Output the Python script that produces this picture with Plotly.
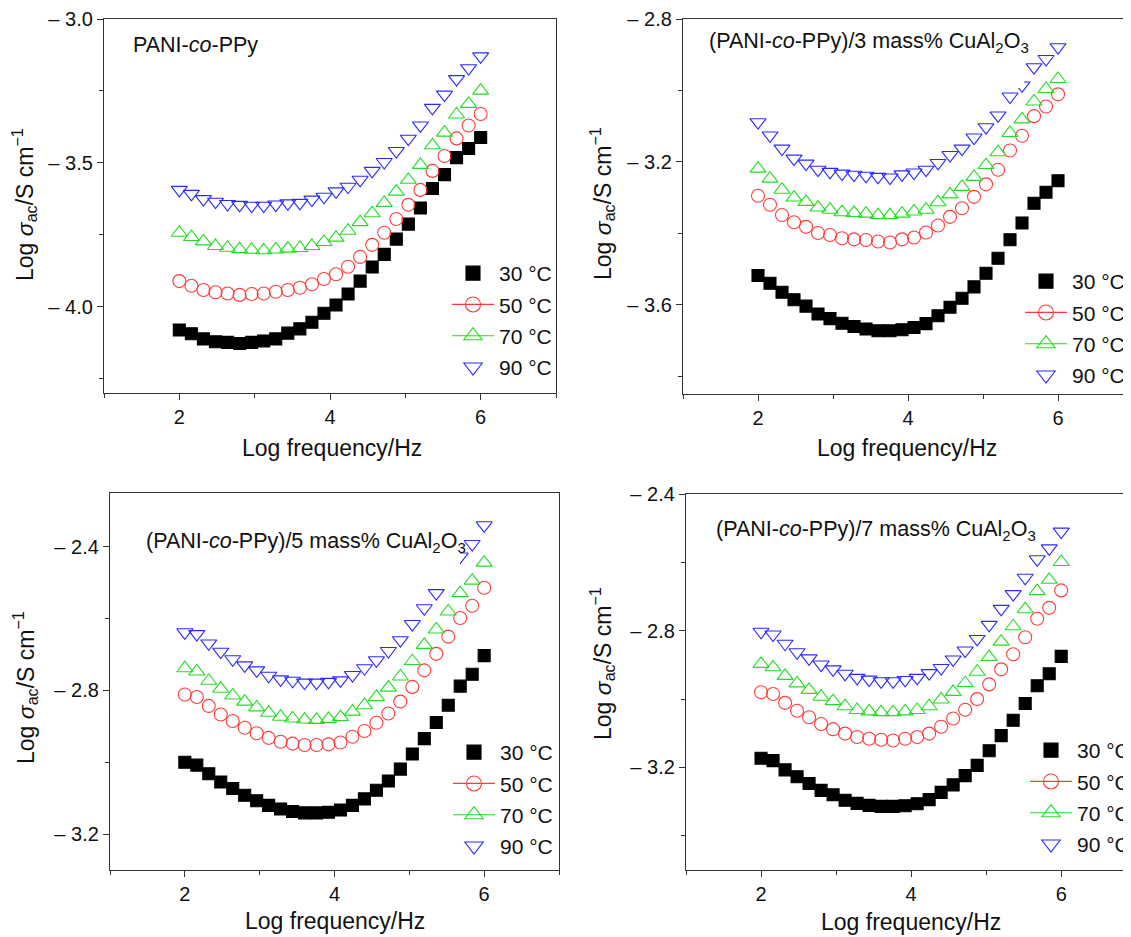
import plotly.graph_objects as go

# ---------------- data ----------------
log_freq = [2.0, 2.16, 2.32, 2.48, 2.64, 2.8, 2.96, 3.12, 3.28, 3.44, 3.6, 3.76, 3.92,
            4.08, 4.24, 4.4, 4.56, 4.72, 4.88, 5.04, 5.2, 5.36, 5.52, 5.68, 5.84, 6.0]

temps = ["30 °C", "50 °C", "70 °C", "90 °C"]

# Panel (a): PANI-co-PPy
a_30 = [-4.081, -4.094, -4.112, -4.122, -4.124, -4.128, -4.124, -4.119, -4.112, -4.092, -4.077, -4.054, -4.023,
        -3.994, -3.956, -3.911, -3.862, -3.818, -3.765, -3.713, -3.657, -3.589, -3.541, -3.482, -3.450, -3.412]
a_50 = [-3.911, -3.927, -3.942, -3.950, -3.954, -3.959, -3.956, -3.954, -3.948, -3.942, -3.934, -3.922, -3.904,
        -3.887, -3.861, -3.827, -3.785, -3.743, -3.695, -3.646, -3.594, -3.528, -3.476, -3.415, -3.370, -3.330]
a_70 = [-3.743, -3.758, -3.773, -3.789, -3.795, -3.800, -3.802, -3.804, -3.801, -3.798, -3.796, -3.789, -3.775,
        -3.760, -3.736, -3.706, -3.675, -3.639, -3.600, -3.559, -3.507, -3.439, -3.395, -3.332, -3.295, -3.249]
a_90 = [-3.594, -3.608, -3.626, -3.635, -3.643, -3.646, -3.649, -3.649, -3.645, -3.641, -3.639, -3.628, -3.618,
        -3.599, -3.583, -3.559, -3.528, -3.497, -3.459, -3.416, -3.370, -3.309, -3.263, -3.209, -3.171, -3.130]

# Panel (b): 3 mass% CuAl2O3
b_30 = [-3.518, -3.540, -3.565, -3.586, -3.604, -3.626, -3.639, -3.652, -3.661, -3.668, -3.673, -3.673, -3.670,
        -3.664, -3.653, -3.631, -3.607, -3.582, -3.550, -3.512, -3.470, -3.418, -3.371, -3.316, -3.285, -3.253]
b_50 = [-3.295, -3.320, -3.349, -3.369, -3.382, -3.399, -3.405, -3.414, -3.417, -3.419, -3.423, -3.426, -3.417,
        -3.412, -3.398, -3.378, -3.354, -3.330, -3.298, -3.263, -3.222, -3.168, -3.127, -3.072, -3.045, -3.011]
b_70 = [-3.219, -3.247, -3.278, -3.300, -3.312, -3.328, -3.334, -3.341, -3.343, -3.345, -3.349, -3.349, -3.345,
        -3.339, -3.334, -3.313, -3.291, -3.270, -3.242, -3.209, -3.173, -3.119, -3.081, -3.031, -2.996, -2.968]
b_90 = [-3.089, -3.126, -3.163, -3.191, -3.205, -3.222, -3.228, -3.233, -3.236, -3.239, -3.242, -3.244, -3.235,
        -3.230, -3.222, -3.203, -3.181, -3.163, -3.132, -3.103, -3.070, -3.017, -2.986, -2.935, -2.912, -2.879]

# Panel (c): 5 mass% CuAl2O3
c_30 = [-3.000, -3.008, -3.032, -3.055, -3.073, -3.092, -3.107, -3.120, -3.130, -3.137, -3.141, -3.141, -3.139,
        -3.133, -3.120, -3.102, -3.078, -3.052, -3.019, -2.977, -2.934, -2.889, -2.841, -2.788, -2.755, -2.703]
c_50 = [-2.811, -2.818, -2.843, -2.867, -2.885, -2.904, -2.919, -2.932, -2.943, -2.948, -2.952, -2.952, -2.950,
        -2.945, -2.929, -2.913, -2.890, -2.864, -2.831, -2.790, -2.744, -2.698, -2.650, -2.598, -2.564, -2.514]
c_70 = [-2.738, -2.747, -2.773, -2.795, -2.814, -2.831, -2.847, -2.862, -2.873, -2.878, -2.881, -2.882, -2.879,
        -2.874, -2.859, -2.841, -2.818, -2.792, -2.761, -2.718, -2.673, -2.630, -2.580, -2.529, -2.494, -2.444]
c_90 = [-2.638, -2.643, -2.669, -2.692, -2.713, -2.730, -2.744, -2.759, -2.769, -2.773, -2.778, -2.778, -2.776,
        -2.772, -2.757, -2.738, -2.716, -2.690, -2.660, -2.615, -2.571, -2.529, -2.477, -2.427, -2.392, -2.340]

# Panel (d): 7 mass% CuAl2O3
d_30 = [-3.173, -3.180, -3.207, -3.227, -3.247, -3.267, -3.280, -3.296, -3.305, -3.311, -3.314, -3.314, -3.312,
        -3.306, -3.294, -3.273, -3.251, -3.224, -3.194, -3.151, -3.107, -3.062, -3.013, -2.961, -2.926, -2.875]
d_50 = [-2.980, -2.985, -3.011, -3.034, -3.053, -3.073, -3.088, -3.101, -3.111, -3.116, -3.119, -3.121, -3.116,
        -3.111, -3.101, -3.081, -3.057, -3.031, -3.000, -2.957, -2.913, -2.869, -2.819, -2.765, -2.733, -2.682]
d_70 = [-2.897, -2.907, -2.932, -2.954, -2.973, -2.993, -3.006, -3.021, -3.032, -3.036, -3.038, -3.038, -3.036,
        -3.032, -3.021, -3.001, -2.979, -2.953, -2.920, -2.877, -2.832, -2.787, -2.737, -2.684, -2.651, -2.599]
d_90 = [-2.803, -2.811, -2.838, -2.863, -2.881, -2.899, -2.913, -2.926, -2.938, -2.943, -2.948, -2.948, -2.944,
        -2.938, -2.924, -2.909, -2.884, -2.858, -2.824, -2.783, -2.736, -2.693, -2.645, -2.591, -2.559, -2.510]

panel_titles = [
    "PANI-<i>co</i>-PPy",
    "(PANI-<i>co</i>-PPy)/3 mass% CuAl<sub>2</sub>O<sub>3</sub>",
    "(PANI-<i>co</i>-PPy)/5 mass% CuAl<sub>2</sub>O<sub>3</sub>",
    "(PANI-<i>co</i>-PPy)/7 mass% CuAl<sub>2</sub>O<sub>3</sub>",
]
x_title = "Log frequency/Hz"
y_title = "Log <i>σ</i><sub>ac</sub>/S cm<sup>\u22121</sup>"

x_tickvals = [2, 4, 6]
x_ticktext = ["2", "4", "6"]
x_minor = [1, 3, 5, 7]

y_tickvals_a = [-3.0, -3.5, -4.0]
y_ticktext_a = ["\u2013 3.0", "\u2013 3.5", "\u2013 4.0"]
y_minor_a = [-3.25, -3.75, -4.25]
y_tickvals_b = [-2.8, -3.2, -3.6]
y_ticktext_b = ["\u2013 2.8", "\u2013 3.2", "\u2013 3.6"]
y_minor_b = [-3.0, -3.4, -3.8]
y_tickvals_c = [-2.4, -2.8, -3.2]
y_ticktext_c = ["\u2013 2.4", "\u2013 2.8", "\u2013 3.2"]
y_minor_c = [-2.6, -3.0]
y_tickvals_d = [-2.4, -2.8, -3.2]
y_ticktext_d = ["\u2013 2.4", "\u2013 2.8", "\u2013 3.2"]
y_minor_d = [-2.6, -3.0, -3.4]

# ---------------- style / layout ----------------
SW, SH = 1131, 937          # screen (viewport) size
OFF = 8                     # default page margin around the plot div
W, H = SW - OFF, SH - OFF   # figure size
FONT = "Liberation Sans, Arial, Helvetica, sans-serif"
AX = "#333333"
TXT = "#111111"
colors = ["#000000", "#ff3b3b", "#22dd22", "#2b2bff"]
symbols = ["square", "circle-open", "triangle-up-open", "triangle-down-open"]
sizes = [12, 13, 14, 14]


def px(sx):
    """screen x (px) -> paper fraction"""
    return (sx - OFF) / W


def py(sy):
    """screen y (px, from top) -> paper fraction"""
    return 1 - (sy - OFF) / H


panels = [
    dict(series=[a_30, a_50, a_70, a_90], xdom=[px(104), px(556)], ydom=[py(393), py(19)],
         xr=[1, 7], yr=[-4.3, -3.0], tv=y_tickvals_a, tt=y_ticktext_a, mn=y_minor_a, ymirror=True,
         title_xy=(131, 45), ytitle=(24, 205), xtitle=(332, 448), leg=(447, 253), box=None),
    dict(series=[b_30, b_50, b_70, b_90], xdom=[px(683), 1.0], ydom=[py(394), py(19)],
         xr=[1, 6.973], yr=[-3.85, -2.8], tv=y_tickvals_b, tt=y_ticktext_b, mn=y_minor_b, ymirror=False,
         title_xy=(707, 43), ytitle=(602, 204), xtitle=(907, 448), leg=(1020, 261),
         box=(697, 24, 1024, 88)),
    dict(series=[c_30, c_50, c_70, c_90], xdom=[px(110), px(559)], ydom=[py(870), py(493)],
         xr=[1, 7], yr=[-3.3, -2.25], tv=y_tickvals_c, tt=y_ticktext_c, mn=y_minor_c, ymirror=True,
         title_xy=(144, 542), ytitle=(25, 688), xtitle=(335, 921), leg=(448, 732),
         box=(140, 522, 460, 584)),
    dict(series=[d_30, d_50, d_70, d_90], xdom=[px(686), 1.0], ydom=[py(870), py(494)],
         xr=[1, 6.93], yr=[-3.5, -2.4], tv=y_tickvals_d, tt=y_ticktext_d, mn=y_minor_d, ymirror=False,
         title_xy=(714, 530), ytitle=(602, 664), xtitle=(911, 922), leg=(1025, 730), box=None),
]

fig = go.Figure()
annotations = []
shapes = []
layout = {}

for i, p in enumerate(panels):
    n = "" if i == 0 else str(i + 1)
    xa, ya = "x" + n, "y" + n
    leg = "legend" + n
    for k, ser in enumerate(p["series"]):
        fig.add_trace(go.Scatter(
            x=log_freq, y=ser, xaxis=xa, yaxis=ya, mode="markers", showlegend=False,
            marker=dict(symbol=symbols[k], size=sizes[k], color=colors[k],
                        line=dict(color=colors[k], width=1.1)),
            cliponaxis=False,
        ))
    for k in range(4):
        fig.add_trace(go.Scatter(
            x=[None], y=[None], xaxis=xa, yaxis=ya, name=temps[k], legend=leg,
            legendgroup=f"{leg}_{k}",
            mode="lines+markers" if k in (1, 2) else "markers",
            line=dict(color=colors[k], width=1.2),
            marker=dict(symbol=symbols[k], size=sizes[k] + 2, color=colors[k],
                        line=dict(color=colors[k], width=1.1)),
        ))
    layout["xaxis" + n] = dict(
        domain=p["xdom"], range=p["xr"], anchor=ya, showgrid=False, zeroline=False,
        showline=True, linecolor=AX, linewidth=1.3, mirror=True, automargin=False,
        ticks="outside", ticklen=6, tickwidth=1.2, tickcolor=AX,
        tickvals=x_tickvals, ticktext=x_ticktext,
        minor=dict(tickvals=x_minor, ticks="outside", ticklen=4, tickwidth=1.1, tickcolor=AX),
        tickfont=dict(family=FONT, size=20, color=TXT),
    )
    layout["yaxis" + n] = dict(
        domain=p["ydom"], range=p["yr"], anchor=xa, showgrid=False, zeroline=False,
        showline=True, linecolor=AX, linewidth=1.3, mirror=p["ymirror"], automargin=False,
        ticks="outside", ticklen=6, tickwidth=1.2, tickcolor=AX,
        tickvals=p["tv"], ticktext=p["tt"],
        minor=dict(tickvals=p["mn"], ticks="outside", ticklen=4, tickwidth=1.1, tickcolor=AX),
        tickfont=dict(family=FONT, size=20, color=TXT),
    )
    lx, ly = p["leg"]
    layout[leg] = dict(
        x=px(lx), y=py(ly), xanchor="left", yanchor="top", bgcolor="rgba(0,0,0,0)",
        font=dict(family=FONT, size=21, color=TXT), itemwidth=42, tracegroupgap=1,
    )
    if p["box"]:
        x0, y0, x1, y1 = p["box"]
        shapes.append(dict(type="rect", xref="paper", yref="paper", layer="above",
                           x0=px(x0), x1=px(x1), y0=py(y1), y1=py(y0),
                           fillcolor="white", line=dict(width=0)))
    tx, ty = p["title_xy"]
    annotations.append(dict(
        text=panel_titles[i], x=px(tx), y=py(ty), xref="paper", yref="paper",
        xanchor="left", yanchor="middle", showarrow=False,
        font=dict(family=FONT, size=21.5, color=TXT),
    ))
    xx, xy = p["xtitle"]
    annotations.append(dict(
        text=x_title, x=px(xx), y=py(xy), xref="paper", yref="paper",
        xanchor="center", yanchor="middle", showarrow=False,
        font=dict(family=FONT, size=23, color=TXT),
    ))
    yx, yy = p["ytitle"]
    annotations.append(dict(
        text=y_title, x=px(yx), y=py(yy), xref="paper", yref="paper",
        xanchor="center", yanchor="middle", textangle=-90, showarrow=False,
        font=dict(family=FONT, size=23, color=TXT),
    ))

fig.update_layout(
    width=W, height=H, margin=dict(l=0, r=0, t=0, b=0, pad=0, autoexpand=False),
    paper_bgcolor="white", plot_bgcolor="white",
    annotations=annotations, shapes=shapes, **layout,
)

fig.write_html("out.html")
